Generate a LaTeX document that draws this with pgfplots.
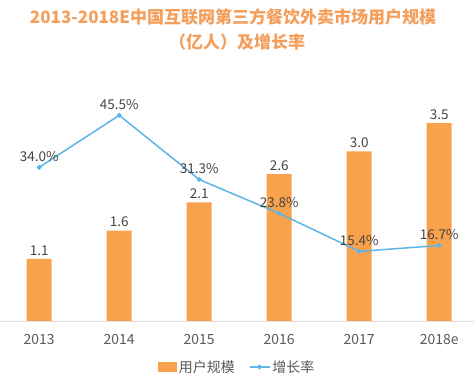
\documentclass[border=0pt]{standalone}
\usepackage{pgfplots}
\pgfplotsset{compat=1.18}
\usepackage{fontspec}
\setmainfont{Noto Sans CJK SC}
\definecolor{barorange}{RGB}{249,162,78}
\definecolor{lineblue}{RGB}{92,180,232}
\definecolor{titleorange}{RGB}{244,158,92}
\definecolor{labgray}{RGB}{68,68,68}
\definecolor{tickgray}{RGB}{89,89,89}
\begin{document}
\begin{tikzpicture}[x=1pt,y=1pt]
\path[use as bounding box] (0,-58) rectangle (474,321);
\node[text=titleorange, font=\bfseries\fontsize{17}{17}\selectfont] at (233,304) {2013-2018E中国互联网第三方餐饮外卖市场用户规模};
\node[text=titleorange, font=\bfseries\fontsize{17}{17}\selectfont] at (237,279) {（亿人）及增长率};
\begin{axis}[at={(0,0)}, anchor=south west, scale only axis,
  width=474pt, height=226pt,
  xmin=-0.49, xmax=5.435, ymin=0, ymax=4,
  axis y line=none, axis x line=bottom,
  x axis line style={-, draw=gray!25, line width=0.8pt},
  xtick={0,...,5}, xticklabels={2013,2014,2015,2016,2017,2018e},
  major tick length=0pt,
  xticklabel style={font=\fontsize{14}{14}\selectfont, text=tickgray, yshift=-10pt},
  ybar, bar width=25pt,
  nodes near coords,
  nodes near coords style={font=\fontsize{13.5}{13.5}\selectfont, text=labgray, anchor=south, yshift=0pt,
    /pgf/number format/.cd, fixed, fixed zerofill, precision=1, assume math mode=true},
  clip=false]
\addplot[fill=barorange, draw=none] coordinates {(0,1.1) (1,1.6) (2,2.1) (3,2.6) (4,3.0) (5,3.5)};
\end{axis}
\begin{axis}[at={(0,0)}, anchor=south west, scale only axis,
  width=474pt, height=226pt,
  xmin=-0.49, xmax=5.435, ymin=0, ymax=50,
  axis lines=none, clip=false,
  legend columns=2,
  legend style={at={(0.5,-46/226)}, anchor=center, draw=none, fill=none,
    font=\fontsize{14}{14}\selectfont, text=tickgray,
    /tikz/every even column/.append style={column sep=12pt}},
  legend image code/.code={\draw[mark repeat=2, mark phase=2, #1] plot coordinates {(0pt,0pt) (10pt,0pt) (20pt,0pt)};},
  nodes near coords={\pgfmathprintnumber{\pgfplotspointmeta}\%},
  nodes near coords style={font=\fontsize{13.5}{13.5}\selectfont, text=labgray, anchor=south, yshift=2pt,
    /pgf/number format/.cd, fixed, fixed zerofill, precision=1, assume math mode=true}]
\addlegendimage{area legend, fill=barorange, draw=none, legend image code/.code={\fill[barorange] (0pt,-5pt) rectangle (19pt,5pt);}}
\addlegendentry{用户规模}
\addplot[lineblue, line width=1.5pt, mark=*, mark size=1.6pt, mark options={fill=lineblue, draw=lineblue}]
  coordinates {(0,34.0) (1,45.5) (2,31.3) (3,23.8) (4,15.4) (5,16.7)};
\addlegendentry{增长率}
\end{axis}
\end{tikzpicture}
\end{document}
